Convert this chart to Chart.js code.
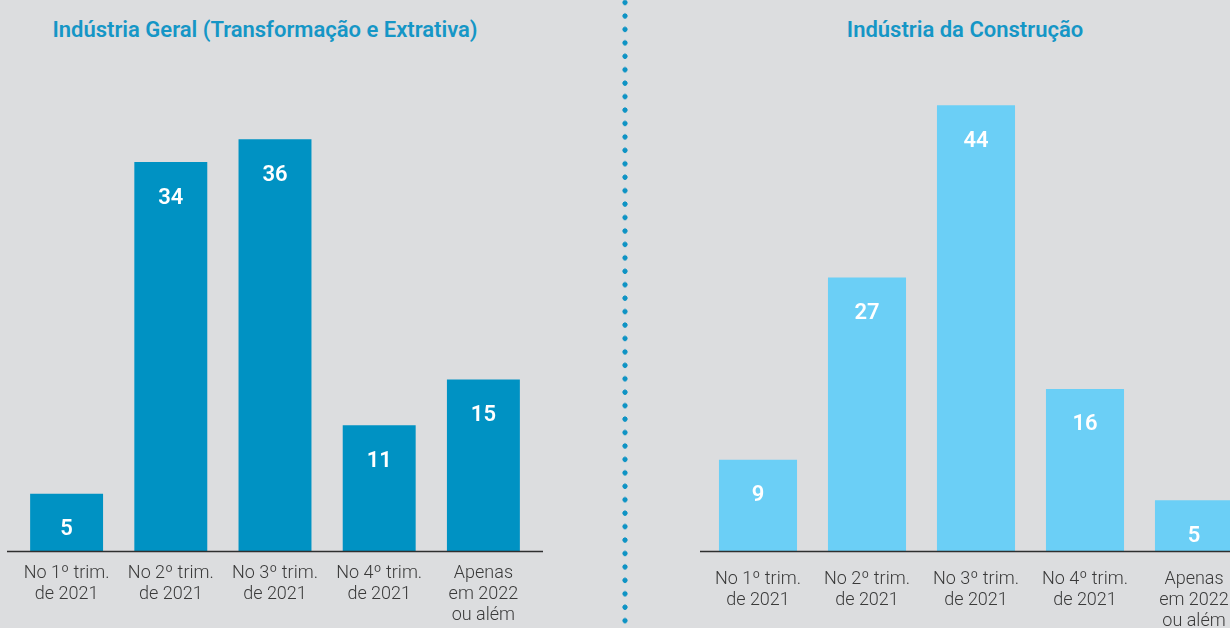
<!DOCTYPE html>
<html>
<head>
<meta charset="utf-8">
<script src="https://cdn.jsdelivr.net/npm/chart.js@4.4.1/dist/chart.umd.min.js"></script>
<style>
  html, body { margin:0; padding:0; width:1230px; height:628px; overflow:hidden; background:#dcdddf; }
  #wrap { position:relative; width:1230px; height:628px; overflow:hidden; }
  canvas { position:absolute; top:0; }
  .title { position:absolute; top:15px; font-family:Roboto, sans-serif; font-weight:600; font-size:22px; color:#1596c6; white-space:nowrap; transform:translateX(-50%); line-height:30px; }
  #sep { position:absolute; left:622px; top:0; width:6px; height:628px;
    background-image: radial-gradient(circle at 3px 3px, #0e93c4 2.3px, rgba(14,147,196,0) 2.9px);
    background-size: 6px 13.45px; background-repeat: repeat-y; background-position: 0 -0.5px; }
</style>
</head>
<body>
<div id="wrap">
  <div class="title" style="left:265px">Indústria Geral (Transformação e Extrativa)</div>
  <div class="title" style="left:965px">Indústria da Construção</div>
  <div id="sep"></div>
  <canvas id="c1" width="615" height="628" style="left:0"></canvas>
  <canvas id="c2" width="640" height="628" style="left:630px"></canvas>
</div>
<script>
const categories = [
  ["No 1º trim.", "de 2021"],
  ["No 2º trim.", "de 2021"],
  ["No 3º trim.", "de 2021"],
  ["No 4º trim.", "de 2021"],
  ["Apenas", "em 2022", "ou além"]
];
const geralValues = [5, 34, 36, 11, 15];
const construcaoValues = [9, 27, 44, 16, 5];

const baselinePlugin = {
  id: 'baseline',
  afterDatasetsDraw(chart, args, opts) {
    const {ctx, chartArea} = chart;
    ctx.save();
    ctx.strokeStyle = '#2f2f2f';
    ctx.lineWidth = 1.3;
    ctx.beginPath();
    const y = Math.round(chartArea.bottom) + 0.5;
    ctx.moveTo(chartArea.left - opts.extLeft, y);
    ctx.lineTo(chartArea.right + opts.extRight, y);
    ctx.stroke();
    ctx.restore();
  }
};

const valueLabelPlugin = {
  id: 'valueLabels',
  afterDatasetsDraw(chart, args, opts) {
    const {ctx} = chart;
    const meta = chart.getDatasetMeta(0);
    const data = chart.data.datasets[0].data;
    ctx.save();
    ctx.fillStyle = '#ffffff';
    ctx.font = '600 22px Roboto, sans-serif';
    ctx.textAlign = 'center';
    ctx.textBaseline = 'middle';
    meta.data.forEach((bar, i) => {
      ctx.fillText(String(data[i]), bar.x, bar.y + opts.offset);
    });
    ctx.restore();
  }
};

function makeChart(id, values, color, yMax, pad, barPct, tickPad, ext) {
  return new Chart(document.getElementById(id), {
    type: 'bar',
    data: {
      labels: categories,
      datasets: [{ data: values, backgroundColor: color, borderWidth: 0,
        categoryPercentage: 1.0, barPercentage: barPct }]
    },
    options: {
      responsive: false,
      animation: false,
      events: [],
      layout: { padding: pad },
      plugins: {
        legend: { display: false },
        tooltip: { enabled: false },
        title: { display: false },
        baseline: ext,
        valueLabels: { offset: 36 }
      },
      scales: {
        x: {
          grid: { display: false },
          border: { display: false },
          ticks: {
            color: '#3a3a3a',
            padding: tickPad,
            maxRotation: 0,
            autoSkip: false,
            font: { family: 'Roboto, sans-serif', size: 18, weight: '300', lineHeight: 1.17 }
          },
          afterFit(scale) { scale.height = 77; }
        },
        y: { display: false, min: 0, max: yMax }
      }
    },
    plugins: [baselinePlugin, valueLabelPlugin]
  });
}

makeChart('c1', geralValues, '#0092c3', 40,
  { left: 14.5, right: 79.5, top: 93.4, bottom: 0 }, 0.70, 4, { extLeft: 7.5, extRight: 7.5 });
makeChart('c2', construcaoValues, '#6bcff6', 50,
  { left: 73.5, right: 21.5, top: 44.5, bottom: 0 }, 0.716, 10, { extLeft: 3.5, extRight: 10 });
</script>
</body>
</html>
